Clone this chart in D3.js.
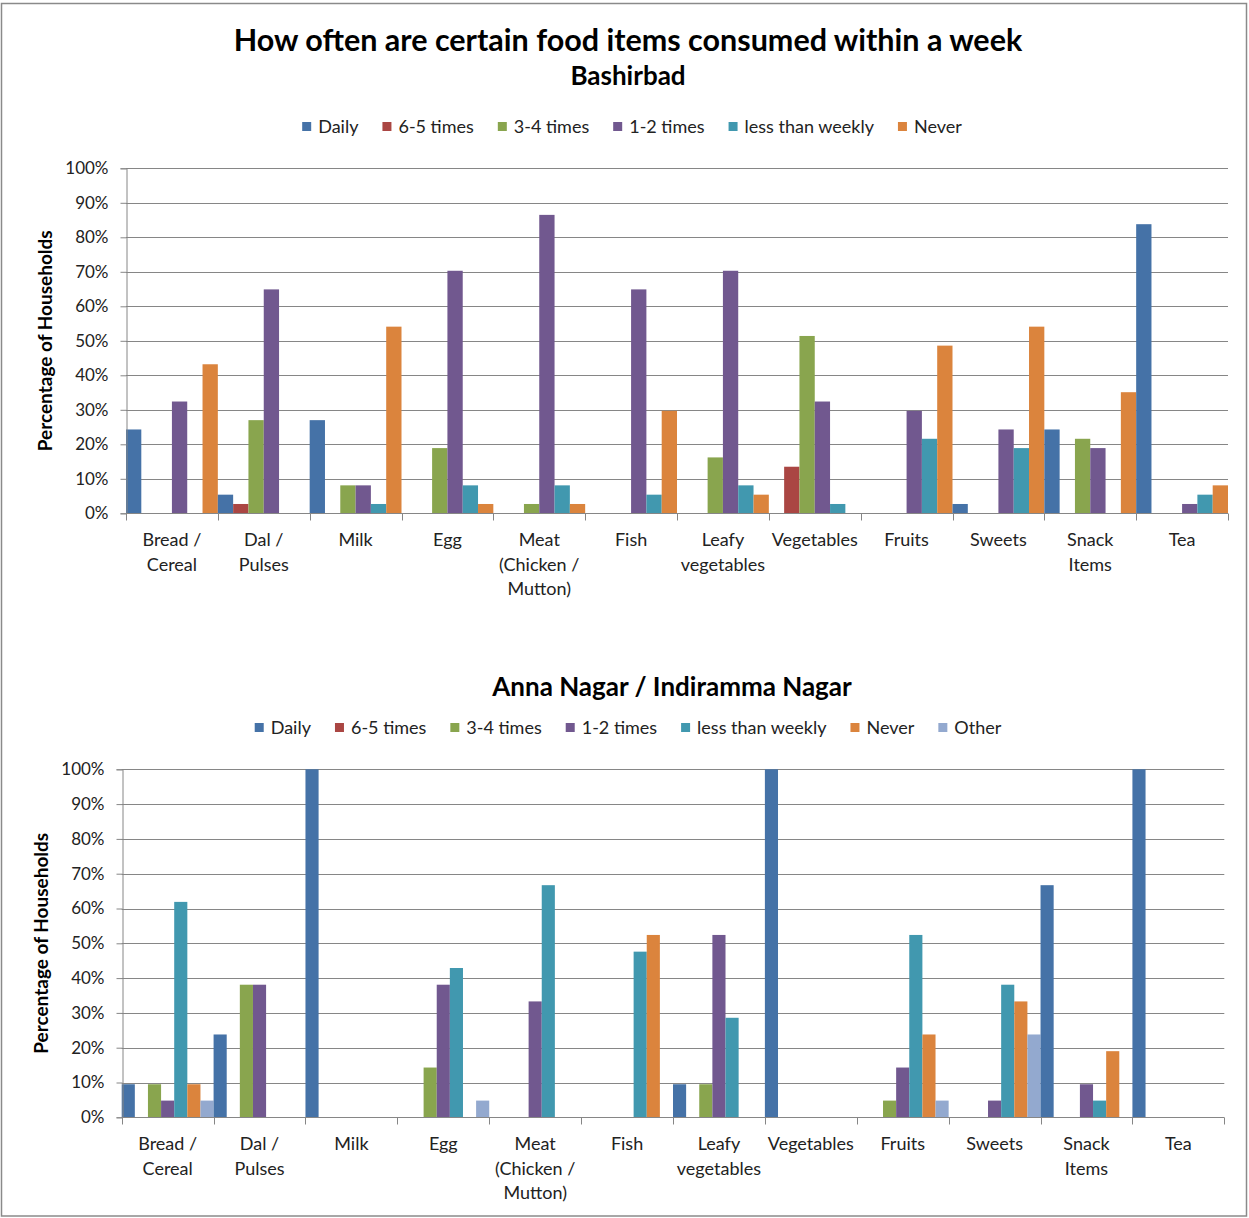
<!DOCTYPE html>
<html>
<head>
<meta charset="utf-8">
<script src="https://cdn.jsdelivr.net/npm/d3@7/dist/d3.min.js"></script>
<style>
  body { margin: 0; background: #fff; }
  svg { display: block; font-family: Lato, "Open Sans", sans-serif; }
</style>
</head>
<body>
<svg id="chart" width="1249" height="1218"></svg>
<script>
// Food categories shared by both panels (each entry is a list of label lines)
const categories = ["Bread / Cereal", "Dal / Pulses", "Milk", "Egg", "Meat (Chicken / Mutton)", "Fish",
  "Leafy vegetables", "Vegetables", "Fruits", "Sweets", "Snack Items", "Tea"];
const categoryLines = [["Bread /", "Cereal"], ["Dal /", "Pulses"], ["Milk"], ["Egg"], ["Meat", "(Chicken /", "Mutton)"],
  ["Fish"], ["Leafy", "vegetables"], ["Vegetables"], ["Fruits"], ["Sweets"], ["Snack", "Items"], ["Tea"]];

const yTicks = [0, 10, 20, 30, 40, 50, 60, 70, 80, 90, 100];

// Bashirbad: percentage of households per frequency
const bashirbadSeries = ["Daily", "6-5 times", "3-4 times", "1-2 times", "less than weekly", "Never"];
const bashirbadDaily = [24.3, 5.4, 27.0, 0, 0, 0, 0, 0, 0, 2.7, 24.3, 83.8];
const bashirbad65    = [0, 2.7, 0, 0, 0, 0, 0, 13.5, 0, 0, 0, 0];
const bashirbad34    = [0, 27.0, 8.1, 18.9, 2.7, 0, 16.2, 51.4, 0, 0, 21.6, 0];
const bashirbad12    = [32.4, 64.9, 8.1, 70.3, 86.5, 64.9, 70.3, 32.4, 29.7, 24.3, 18.9, 2.7];
const bashirbadLess  = [0, 0, 2.7, 8.1, 8.1, 5.4, 8.1, 2.7, 21.6, 18.9, 0, 5.4];
const bashirbadNever = [43.2, 0, 54.1, 2.7, 2.7, 29.7, 5.4, 0, 48.6, 54.1, 35.1, 8.1];

// Anna Nagar / Indiramma Nagar: percentage of households per frequency
const annaSeries = ["Daily", "6-5 times", "3-4 times", "1-2 times", "less than weekly", "Never", "Other"];
const annaDaily = [9.5, 23.8, 100, 0, 0, 0, 9.5, 100, 0, 0, 66.7, 100];
const anna65    = [0, 0, 0, 0, 0, 0, 0, 0, 0, 0, 0, 0];
const anna34    = [9.5, 38.1, 0, 14.3, 0, 0, 9.5, 0, 4.8, 0, 0, 0];
const anna12    = [4.8, 38.1, 0, 38.1, 33.3, 0, 52.4, 0, 14.3, 4.8, 9.5, 0];
const annaLess  = [61.9, 0, 0, 42.9, 66.7, 47.6, 28.6, 0, 52.4, 38.1, 4.8, 0];
const annaNever = [9.5, 0, 0, 0, 0, 52.4, 0, 0, 23.8, 33.3, 19.0, 0];
const annaOther = [4.8, 0, 0, 4.8, 0, 0, 0, 0, 4.8, 23.8, 0, 0];

const seriesColors = {
  "Daily": "#4572A7", "6-5 times": "#AA4643", "3-4 times": "#89A54E", "1-2 times": "#71588F",
  "less than weekly": "#4198AF", "Never": "#DB843D", "Other": "#93A9CF"
};

const svg = d3.select("#chart");
const gridColor = "#868686";

// outer frame
svg.append("rect").attr("x", 1.5).attr("y", 3.5).attr("width", 1245).attr("height", 1212.5)
  .attr("fill", "none").attr("stroke", "#8a8a8a").attr("stroke-width", 1.5);

// headings
svg.append("text").attr("x", 628).attr("y", 51).attr("text-anchor", "middle")
  .attr("font-size", 30.5).attr("font-weight", "bold").attr("fill", "#000")
  .text("How often are certain food items consumed within a week");
svg.append("text").attr("x", 628).attr("y", 85).attr("text-anchor", "middle")
  .attr("font-size", 26).attr("font-weight", "bold").attr("fill", "#000")
  .text("Bashirbad");
svg.append("text").attr("x", 672).attr("y", 696).attr("text-anchor", "middle")
  .attr("font-size", 26).attr("font-weight", "bold").attr("fill", "#000")
  .text("Anna Nagar / Indiramma Nagar");

function drawLegend(names, cx, cy) {
  const g = svg.append("g");
  const items = g.selectAll("g.item").data(names).join("g").attr("class", "item");
  items.append("rect").attr("width", 9).attr("height", 9).attr("y", cy - 5)
    .attr("fill", d => seriesColors[d]);
  items.append("text").attr("x", 16).attr("y", cy).attr("dy", "0.35em")
    .attr("font-size", 18).attr("fill", "#222").text(d => d);
  let x = 0;
  const gap = 24;
  items.each(function () {
    const w = d3.select(this).select("text").node().getComputedTextLength();
    d3.select(this).attr("transform", `translate(${x},0)`);
    x += 16 + w + gap;
  });
  const total = x - gap;
  g.attr("transform", `translate(${cx - total / 2},0)`);
}

function drawPanel(cfg) {
  const { left, right, top, bottom, names, values } = cfg;
  const g = svg.append("g");
  const x0 = d3.scaleBand().domain(categories).range([left, right]).paddingInner(0).paddingOuter(0);
  const x1 = d3.scaleBand().domain(names).range([0, x0.bandwidth()]).padding(0);
  const y = d3.scaleLinear().domain([0, 100]).range([bottom, top]);

  // horizontal gridlines
  g.append("g").selectAll("line").data(yTicks.filter(t => t > 0)).join("line")
    .attr("x1", left).attr("x2", right)
    .attr("y1", d => Math.round(y(d)) + 0.5).attr("y2", d => Math.round(y(d)) + 0.5)
    .attr("stroke", gridColor).attr("stroke-width", 1);

  // bars
  const rows = categories.map((c, i) => ({ cat: c, vals: names.map((n, j) => ({ name: n, v: values[j][i] })) }));
  g.append("g").selectAll("g").data(rows).join("g")
    .attr("transform", d => `translate(${x0(d.cat)},0)`)
    .selectAll("rect").data(d => d.vals.filter(e => e.v > 0)).join("rect")
    .attr("x", d => x1(d.name)).attr("width", x1.bandwidth())
    .attr("y", d => y(d.v)).attr("height", d => y(0) - y(d.v))
    .attr("fill", d => seriesColors[d.name]);

  // y axis
  const yAxis = d3.axisLeft(y).tickValues(yTicks).tickFormat(d => d + "%").tickSize(6).tickPadding(12);
  const ya = g.append("g").attr("transform", `translate(${Math.round(left) + 0.5},0)`).call(yAxis);
  ya.select(".domain").attr("stroke", gridColor);
  ya.selectAll(".tick line").attr("stroke", gridColor);
  ya.selectAll(".tick text").attr("font-size", 17).attr("fill", "#222").attr("font-family", "Lato, sans-serif");

  // x axis baseline and category boundary ticks
  const yb = Math.round(bottom) + 0.5;
  g.append("line").attr("x1", left).attr("x2", right).attr("y1", yb).attr("y2", yb)
    .attr("stroke", gridColor);
  const bounds = categories.map(c => x0(c)).concat([right]);
  g.append("g").selectAll("line").data(bounds).join("line")
    .attr("x1", d => Math.round(d) + 0.5).attr("x2", d => Math.round(d) + 0.5)
    .attr("y1", yb).attr("y2", yb + 7).attr("stroke", gridColor);

  // category labels
  const lab = g.append("g").selectAll("text").data(categories).join("text")
    .attr("text-anchor", "middle").attr("font-size", 18).attr("fill", "#222")
    .attr("transform", d => `translate(${x0(d) + x0.bandwidth() / 2},${bottom + 33})`);
  lab.selectAll("tspan").data((d, i) => categoryLines[i]).join("tspan")
    .attr("x", 0).attr("y", (d, i) => i * 24.5).text(d => d);

  // y axis title
  g.append("text").attr("transform", `translate(${cfg.titleX},${(top + bottom) / 2}) rotate(-90)`)
    .attr("text-anchor", "middle").attr("dy", "0.35em")
    .attr("font-size", 19).attr("font-weight", "bold").attr("fill", "#000")
    .text("Percentage of Households");
}

drawLegend(bashirbadSeries, 632, 127);
drawPanel({
  left: 126, right: 1228, top: 168.3, bottom: 513.3, titleX: 45,
  names: bashirbadSeries,
  values: [bashirbadDaily, bashirbad65, bashirbad34, bashirbad12, bashirbadLess, bashirbadNever]
});

drawLegend(annaSeries, 628, 728);
drawPanel({
  left: 121.7, right: 1224.3, top: 769.3, bottom: 1117.3, titleX: 41,
  names: annaSeries,
  values: [annaDaily, anna65, anna34, anna12, annaLess, annaNever, annaOther]
});
</script>
</body>
</html>
